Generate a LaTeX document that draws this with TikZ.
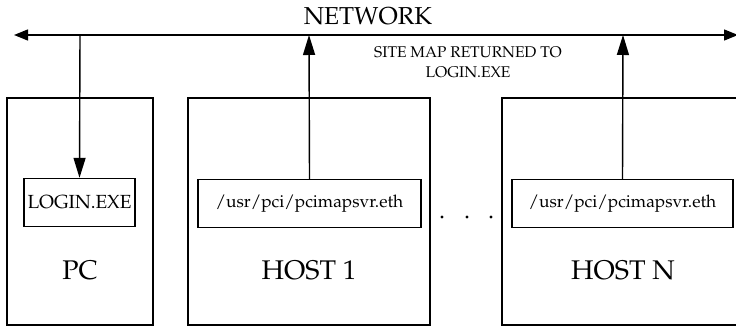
\documentclass[tikz,border=0pt]{standalone}
\usepackage[T1]{fontenc}
\usepackage{mathpazo}
\usetikzlibrary{arrows.meta}
\begin{document}
\begin{tikzpicture}[x=1pt,y=-1pt,line width=1.4pt,
  outerbox/.style={draw,rectangle,minimum height=227pt,inner sep=0pt},
  innerbox/.style={draw,rectangle,minimum height=48pt,inner sep=0pt,font=\fontsize{17.3}{20}\selectfont},
  biglabel/.style={font=\fontsize{27}{30}\selectfont,inner sep=0pt},
  tip/.style={-{Triangle[length=20pt,width=12pt]}},
  dot/.style={circle,fill,inner sep=0pt,minimum size=3.4pt}]
\useasboundingbox (0,0) rectangle (736,328);
% network
\coordinate (netL) at (14,35);
\coordinate (netR) at (738,35);
\draw[{Triangle[length=14pt,width=11pt]}-{Triangle[length=14pt,width=11pt]}] (netL) -- (netR);
\node[font=\fontsize{24.5}{28}\selectfont,inner sep=0pt] (net) at (368,16) {NETWORK};
\node[font=\fontsize{15.5}{19.5}\selectfont,align=center,inner sep=0pt] (site) at (468,62.5) {SITE MAP RETURNED TO\\LOGIN.EXE};
% boxes
\node[outerbox,minimum width=146pt] (pc) at (80,211.5) {};
\node[outerbox,minimum width=242pt] (h1) at (309,211.5) {};
\node[outerbox,minimum width=242pt] (hn) at (623,211.5) {};
\node[innerbox,minimum width=111pt,font=\fontsize{19}{22}\selectfont] (login) at (79.5,202.5) {LOGIN.EXE};
\node[innerbox,minimum width=223pt] (s1) at (309.5,203.5) {/usr/pci/pcimapsvr.eth};
\node[innerbox,minimum width=221pt] (sn) at (622.5,203.5) {/usr/pci/pcimapsvr.eth};
\node[biglabel] (pcl) at (80,270) {PC};
\node[biglabel] (h1l) at (309,270) {HOST 1};
\node[biglabel] (hnl) at (623,270) {HOST N};
% dots
\node[dot] (d1) at (442,217) {};
\node[dot] (d2) at (467,217) {};
\node[dot] (d3) at (491,217) {};
% connectors
\coordinate (pcn) at (80,35);
\coordinate (h1n) at (309,35);
\coordinate (hnn) at (623,35);
\draw[tip] (pcn) -- (login.north);
\draw[tip] (s1.north) -- (h1n);
\draw[tip] (sn.north) -- (hnn);
\end{tikzpicture}
\end{document}
